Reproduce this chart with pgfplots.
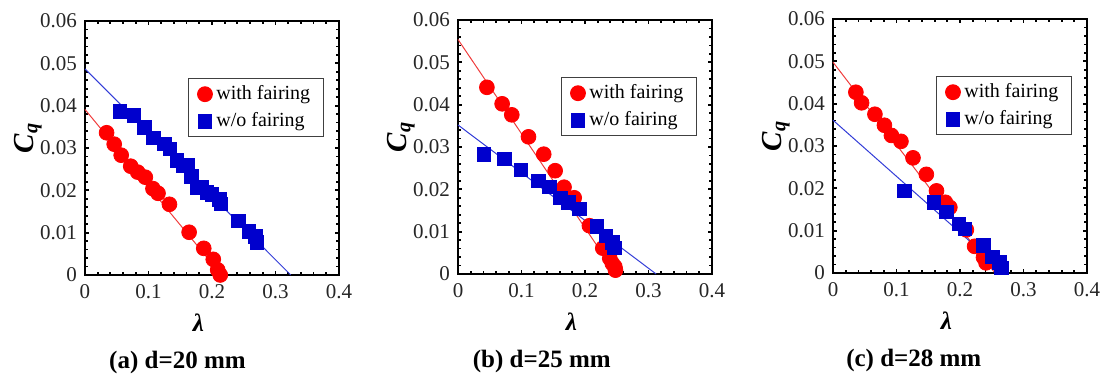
\documentclass[border=0pt]{standalone}
\usepackage{pgfplots}
\pgfplotsset{compat=1.18}
\usepackage{fontspec}
\setmainfont{Liberation Serif}
\definecolor{mkred}{RGB}{255,0,0}
\definecolor{mkblue}{RGB}{0,0,205}
\definecolor{lnred}{RGB}{240,60,60}
\definecolor{lnblue}{RGB}{50,60,215}
\pgfplotsset{
  cqstyle/.style={
    scale only axis, width=127pt, height=127pt,
    xmin=0, xmax=0.4, ymin=0, ymax=0.06,
    xtick={0,0.1,0.2,0.3,0.4}, xticklabels={0,0.1,0.2,0.3,0.4},
    ytick={0,0.01,0.02,0.03,0.04,0.05,0.06},
    yticklabels={0,0.01,0.02,0.03,0.04,0.05,0.06},
    scaled y ticks=false, scaled x ticks=false,
    minor x tick num=4, minor y tick num=4,
    tick align=inside, xtick pos=both, ytick pos=both,
    major tick length=2.2pt, minor tick length=1.3pt,
    every tick/.style={black, line width=0.9pt},
    axis line style={line width=1.1pt},
    /pgf/number format/assume math mode=true,
    tick label style={font=\fontsize{10.5}{12}\selectfont, text=black!85},
    xticklabel style={yshift=-1pt},
    yticklabel style={xshift=-0.5pt},
    xlabel={\fontsize{12.5}{14}\selectfont\bfseries\itshape λ},
    ylabel={\fontsize{14.5}{16}\selectfont\bfseries\itshape C\textsubscript{q}},
    xlabel style={at={(axis description cs:0.447,-0.186)}, anchor=center},
    ylabel style={at={(axis description cs:-0.225,0.54)}, anchor=center},
    clip=false,
    legend cell align=left,
    legend style={at={(rel axis cs:0.94,0.775)}, anchor=north east,
      draw=black!75, line width=0.5pt, font=\fontsize{10}{12}\selectfont,
      inner xsep=4.5pt, inner ysep=1.5pt, row sep=1pt},
  },
  redmk/.style={only marks, mark=*, mark size=3.7pt, mkred, mark options={draw=mkred, fill=mkred}},
  bluemk/.style={only marks, mark=square*, mark size=3.4pt, mkblue, mark options={draw=mkblue, fill=mkblue}},
  redln/.style={lnred, line width=0.5pt, no marks, forget plot},
  blueln/.style={lnblue, line width=0.5pt, no marks, forget plot},
}
\begin{document}
\begin{tikzpicture}
\useasboundingbox (0,0) rectangle (552pt,189pt);
% (a)
\begin{axis}[cqstyle, at={(42.5pt,51.5pt)}, anchor=south west]
\addplot[redln] coordinates {(0,0.0391) (0.215,0)};
\addplot[blueln] coordinates {(0,0.0487) (0.324,0)};
\addplot[redmk] table {
x y
0.034 0.0336
0.046 0.0309
0.057 0.0283
0.072 0.0257
0.083 0.0243
0.095 0.0231
0.107 0.0204
0.115 0.0193
0.133 0.0167
0.164 0.0101
0.187 0.0063
0.202 0.0037
0.209 0.0012
0.213 0.0000
};
\addplot[bluemk] table {
x y
0.055 0.0387
0.077 0.0377
0.094 0.0349
0.108 0.0324
0.125 0.0310
0.134 0.0298
0.145 0.0270
0.154 0.0259
0.162 0.0259
0.168 0.0233
0.177 0.0207
0.183 0.0207
0.192 0.0195
0.200 0.0191
0.212 0.0179
0.214 0.0168
0.242 0.0128
0.258 0.0103
0.268 0.0091
0.271 0.0077
};
\legend{with fairing, w/o fairing}
\node[font=\fontsize{12.5}{14}\selectfont\bfseries] at (rel axis cs:0.364,-0.344) {(a) d=20 mm};
\end{axis}
% (b)
\begin{axis}[cqstyle, at={(229pt,52pt)}, anchor=south west]
\addplot[redln] coordinates {(0,0.0554) (0.249,0)};
\addplot[blueln] coordinates {(0,0.0352) (0.312,0)};
\addplot[redmk] table {
x y
0.0455 0.0441
0.0695 0.0402
0.0847 0.0376
0.111 0.0324
0.135 0.0283
0.153 0.0244
0.167 0.0205
0.183 0.0180
0.207 0.0114
0.228 0.0061
0.239 0.0037
0.243 0.0025
0.247 0.0017
0.248 0.0009
};
\addplot[bluemk] table {
x y
0.041 0.0283
0.073 0.0272
0.099 0.0246
0.127 0.0220
0.144 0.0206
0.161 0.0180
0.174 0.0169
0.191 0.0154
0.219 0.0113
0.233 0.0090
0.243 0.0074
0.246 0.0062
};
\legend{with fairing, w/o fairing}
\node[font=\fontsize{12.5}{14}\selectfont\bfseries] at (rel axis cs:0.33,-0.344) {(b) d=25 mm};
\end{axis}
% (c)
\begin{axis}[cqstyle, at={(416.5pt,52.5pt)}, anchor=south west]
\addplot[redln] coordinates {(0,0.0498) (0.255,0)};
\addplot[blueln] coordinates {(0,0.0361) (0.272,0)};
\addplot[redmk] table {
x y
0.036 0.0427
0.045 0.0402
0.066 0.0375
0.081 0.0349
0.092 0.0325
0.107 0.0311
0.126 0.0272
0.147 0.0233
0.163 0.0194
0.177 0.0167
0.184 0.0155
0.210 0.0102
0.223 0.0063
0.237 0.0037
0.241 0.0024
};
\addplot[bluemk] table {
x y
0.112 0.0194
0.159 0.0167
0.179 0.0144
0.198 0.0116
0.208 0.0104
0.237 0.0065
0.251 0.0038
0.262 0.0025
0.265 0.0012
};
\legend{with fairing, w/o fairing}
\node[font=\fontsize{12.5}{14}\selectfont\bfseries] at (rel axis cs:0.318,-0.344) {(c) d=28 mm};
\end{axis}
\end{tikzpicture}
\end{document}
